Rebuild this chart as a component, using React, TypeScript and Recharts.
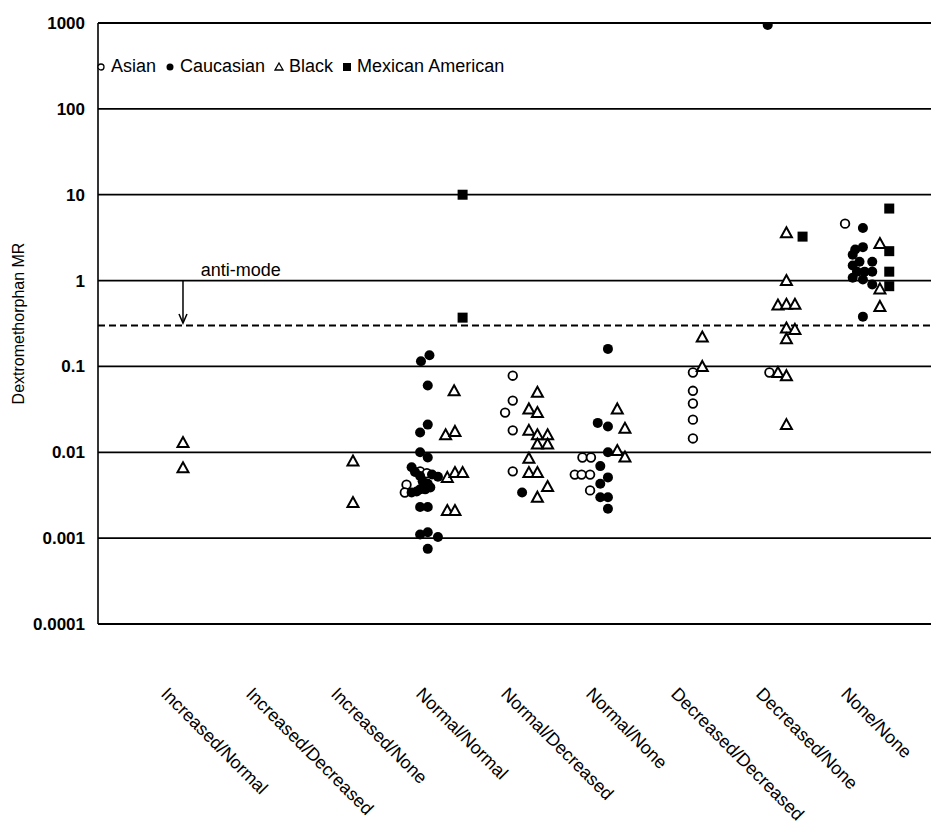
import React from 'react';
import { ScatterChart, Scatter, XAxis, YAxis, CartesianGrid, ReferenceLine, ReferenceDot, Legend } from 'recharts';

const FONT = '"Liberation Sans", Arial, sans-serif';

const categories = [
    'Increased/Normal',
    'Increased/Decreased',
    'Increased/None',
    'Normal/Normal',
    'Normal/Decreased',
    'Normal/None',
    'Decreased/Decreased',
    'Decreased/None',
    'None/None',
];
const categoryTicks = [1, 2, 3, 4, 5, 6, 7, 8, 9];
const yTicks = [0.0001, 0.001, 0.01, 0.1, 1, 10, 100, 1000];
const antiMode = 0.3;

// x = genotype group (1..9) with the horizontal spread seen in the figure, y = MR
const asian = [
    { x: 3.63, y: 0.0042 }, { x: 3.61, y: 0.0034 }, { x: 3.79, y: 0.006 }, { x: 3.87, y: 0.0057 },
    { x: 4.88, y: 0.078 }, { x: 4.88, y: 0.04 }, { x: 4.79, y: 0.029 }, { x: 4.88, y: 0.018 }, { x: 4.88, y: 0.006 },
    { x: 5.7, y: 0.0087 }, { x: 5.8, y: 0.0087 }, { x: 5.61, y: 0.0055 }, { x: 5.69, y: 0.0055 }, { x: 5.79, y: 0.0055 }, { x: 5.79, y: 0.0036 },
    { x: 7.0, y: 0.085 }, { x: 7.0, y: 0.052 }, { x: 7.0, y: 0.037 }, { x: 7.0, y: 0.024 }, { x: 7.0, y: 0.0145 },
    { x: 7.9, y: 0.085 },
    { x: 8.79, y: 4.6 },
];

const caucasian = [
    { x: 3.8, y: 0.115 }, { x: 3.9, y: 0.135 }, { x: 3.88, y: 0.06 }, { x: 3.79, y: 0.017 }, { x: 3.88, y: 0.021 },
    { x: 3.79, y: 0.01 }, { x: 3.88, y: 0.0087 }, { x: 3.69, y: 0.0067 }, { x: 3.73, y: 0.0059 }, { x: 3.79, y: 0.0053 },
    { x: 3.93, y: 0.0055 }, { x: 4.0, y: 0.0052 }, { x: 3.82, y: 0.0046 }, { x: 3.88, y: 0.0043 }, { x: 3.69, y: 0.0034 },
    { x: 3.75, y: 0.0035 }, { x: 3.79, y: 0.0037 }, { x: 3.85, y: 0.0037 }, { x: 3.91, y: 0.0039 }, { x: 3.79, y: 0.0023 },
    { x: 3.88, y: 0.0023 }, { x: 3.79, y: 0.0011 }, { x: 3.88, y: 0.00117 }, { x: 4.0, y: 0.00103 }, { x: 3.88, y: 0.00075 },
    { x: 4.99, y: 0.0034 },
    { x: 6.0, y: 0.16 }, { x: 5.88, y: 0.022 }, { x: 6.0, y: 0.02 }, { x: 6.0, y: 0.01 }, { x: 5.91, y: 0.0069 },
    { x: 6.0, y: 0.0051 }, { x: 5.91, y: 0.0043 }, { x: 5.91, y: 0.003 }, { x: 6.0, y: 0.003 }, { x: 6.0, y: 0.0022 },
    { x: 7.88, y: 950 },
    { x: 9.0, y: 4.1 }, { x: 8.91, y: 2.3 }, { x: 9.0, y: 2.45 }, { x: 8.88, y: 2.0 }, { x: 8.96, y: 1.66 },
    { x: 8.88, y: 1.5 }, { x: 9.11, y: 1.66 }, { x: 8.93, y: 1.27 }, { x: 9.02, y: 1.27 }, { x: 9.11, y: 1.27 },
    { x: 8.88, y: 1.08 }, { x: 9.0, y: 1.03 }, { x: 9.11, y: 0.9 }, { x: 9.0, y: 0.38 },
];

const black = [
    { x: 1.0, y: 0.013 }, { x: 1.0, y: 0.0066 },
    { x: 3.0, y: 0.0079 }, { x: 3.0, y: 0.0026 },
    { x: 4.19, y: 0.052 }, { x: 4.09, y: 0.016 }, { x: 4.2, y: 0.0175 }, { x: 4.11, y: 0.0051 }, { x: 4.2, y: 0.0058 },
    { x: 4.29, y: 0.0058 }, { x: 4.11, y: 0.0021 }, { x: 4.2, y: 0.0021 },
    { x: 5.17, y: 0.05 }, { x: 5.07, y: 0.032 }, { x: 5.17, y: 0.029 }, { x: 5.07, y: 0.018 }, { x: 5.17, y: 0.016 },
    { x: 5.29, y: 0.016 }, { x: 5.17, y: 0.0125 }, { x: 5.29, y: 0.0125 }, { x: 5.07, y: 0.0085 }, { x: 5.07, y: 0.0058 },
    { x: 5.17, y: 0.0058 }, { x: 5.29, y: 0.004 }, { x: 5.17, y: 0.003 },
    { x: 6.11, y: 0.032 }, { x: 6.2, y: 0.019 }, { x: 6.11, y: 0.0105 }, { x: 6.2, y: 0.0088 },
    { x: 7.11, y: 0.22 }, { x: 7.11, y: 0.1 },
    { x: 8.1, y: 3.6 }, { x: 8.1, y: 1.0 }, { x: 8.0, y: 0.52 }, { x: 8.1, y: 0.53 }, { x: 8.2, y: 0.53 },
    { x: 8.1, y: 0.28 }, { x: 8.2, y: 0.27 }, { x: 8.1, y: 0.21 }, { x: 8.0, y: 0.085 }, { x: 8.1, y: 0.078 }, { x: 8.1, y: 0.021 },
    { x: 9.2, y: 2.7 }, { x: 9.2, y: 0.8 }, { x: 9.2, y: 0.5 },
];

const mexicanAmerican = [
    { x: 4.29, y: 10 }, { x: 4.29, y: 0.37 },
    { x: 8.29, y: 3.25 },
    { x: 9.31, y: 6.9 }, { x: 9.31, y: 2.2 }, { x: 9.31, y: 1.27 }, { x: 9.31, y: 0.86 },
];

const OpenCircle = (p: any) => <circle cx={p.cx} cy={p.cy} r={4.3} fill="#fff" stroke="#000" strokeWidth={1.8} />;
const FilledCircle = (p: any) => <circle cx={p.cx} cy={p.cy} r={5} fill="#000" />;
const OpenTriangle = (p: any) => (
    <path d={`M${p.cx},${p.cy - 5.5}L${p.cx + 5.5},${p.cy + 4.5}L${p.cx - 5.5},${p.cy + 4.5}Z`} fill="#fff" stroke="#000" strokeWidth={2} strokeLinejoin="miter" />
);
const FilledSquare = (p: any) => <rect x={p.cx - 5} y={p.cy - 5} width={10} height={10} fill="#000" />;

const ArrowHead = (p: any) => (
    <path d={`M${p.cx - 4},${p.cy - 9}L${p.cx},${p.cy}L${p.cx + 4},${p.cy - 9}`} fill="none" stroke="#000" strokeWidth={1.5} />
);

const legendItems = [
    { name: 'Asian', icon: <circle cx={5} cy={6} r={3} fill="#fff" stroke="#000" strokeWidth={1.3} /> },
    { name: 'Caucasian', icon: <circle cx={5} cy={6} r={3.5} fill="#000" /> },
    { name: 'Black', icon: <path d="M5,2L9,9L1,9Z" fill="#fff" stroke="#000" strokeWidth={1.3} /> },
    { name: 'Mexican American', icon: <rect x={1} y={2} width={8} height={8} fill="#000" /> },
];

const LegendContent = () => (
    <div style={{ display: 'flex', alignItems: 'center', fontFamily: FONT, fontSize: 18, color: '#000', whiteSpace: 'nowrap' }}>
        {legendItems.map((item) => (
            <span key={item.name} style={{ display: 'flex', alignItems: 'center', marginRight: 9 }}>
                <svg width={10} height={12}>{item.icon}</svg>
                <span style={{ marginLeft: 5 }}>{item.name}</span>
            </span>
        ))}
    </div>
);

const CategoryTick = (p: any) => {
    const label = categories[p.payload.value - 1];
    return (
        <text
            transform={`translate(${p.x - 23},${p.y + 63}) rotate(45)`}
            textAnchor="start"
            fontFamily={FONT}
            fontSize={18}
            fill="#000"
        >
            {label}
        </text>
    );
};

const App: React.FC = () => {
    return (
        <div style={{ width: 931, height: 826, background: '#fff' }}>
            <ScatterChart width={931} height={826} margin={{ top: 15, right: 3, bottom: 0, left: 0 }}>
                <CartesianGrid vertical={false} stroke="#000" strokeWidth={1.8} />
                <XAxis
                    type="number"
                    dataKey="x"
                    domain={[0, 9.86]}
                    ticks={categoryTicks}
                    height={210}
                    axisLine={false}
                    tickLine={false}
                    tick={<CategoryTick />}
                    interval={0}
                />
                <YAxis
                    type="number"
                    dataKey="y"
                    scale="log"
                    domain={[0.0001, 1000]}
                    ticks={yTicks}
                    allowDataOverflow
                    width={90}
                    axisLine={{ stroke: '#000', strokeWidth: 1.6 }}
                    tickLine={false}
                    tickSize={0}
                    tickMargin={13}
                    interval={0}
                    tickFormatter={(v: number) => String(v)}
                    tick={{ fill: '#000', fontFamily: FONT, fontSize: 17, fontWeight: 'bold' }}
                    label={{ value: 'Dextromethorphan MR', angle: -90, position: 'center', dx: -35, fill: '#000', fontFamily: FONT, fontSize: 16 }}
                />
                <Legend
                    layout="horizontal"
                    verticalAlign="middle"
                    align="center"
                    content={<LegendContent />}
                    wrapperStyle={{ top: 48, left: 88, width: 'auto' }}
                />
                <ReferenceLine y={antiMode} stroke="#000" strokeWidth={2} strokeDasharray="7 4" />
                <ReferenceLine segment={[{ x: 1, y: 1 }, { x: 1, y: 0.33 }]} stroke="#000" strokeWidth={1.5} />
                <ReferenceDot x={1} y={0.32} r={0} shape={<ArrowHead />} />
                <ReferenceDot
                    x={1.68}
                    y={1}
                    r={0}
                    fill="none"
                    stroke="none"
                    label={{ value: 'anti-mode', position: 'top', offset: 5, fill: '#000', fontFamily: FONT, fontSize: 18 }}
                />
                <Scatter name="Asian" data={asian} shape={<OpenCircle />} isAnimationActive={false} />
                <Scatter name="Caucasian" data={caucasian} shape={<FilledCircle />} isAnimationActive={false} />
                <Scatter name="Black" data={black} shape={<OpenTriangle />} isAnimationActive={false} />
                <Scatter name="Mexican American" data={mexicanAmerican} shape={<FilledSquare />} isAnimationActive={false} />
            </ScatterChart>
        </div>
    );
};

export default App;
